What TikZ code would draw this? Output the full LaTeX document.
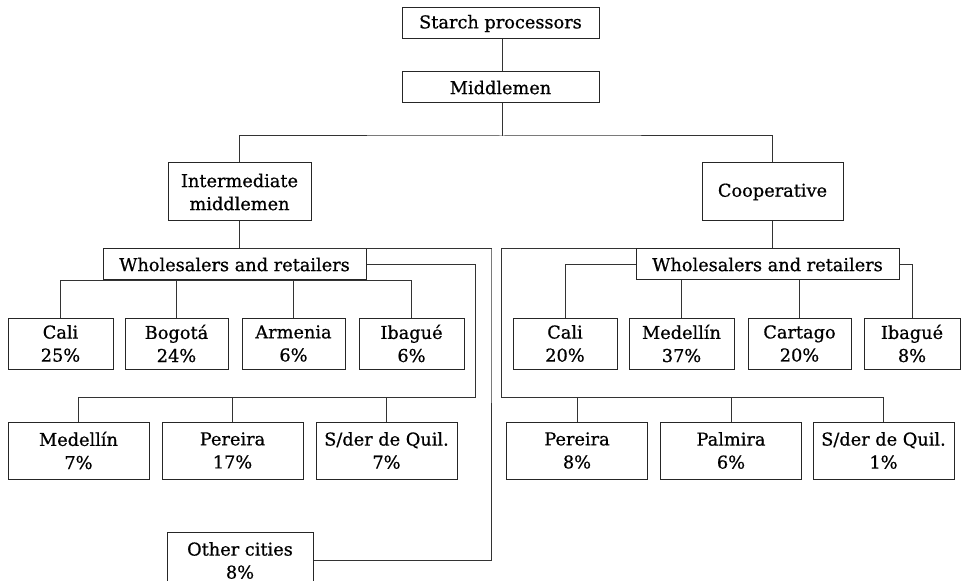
\documentclass[tikz,border=0pt]{standalone}
\usepackage{fontspec}
\setmainfont{DejaVu Serif}
\newfontfamily\boxfont[FakeBold=0.7]{DejaVu Serif}
\usetikzlibrary{positioning}

% one reference pixel
\newcommand{\pxu}[1]{#1*0.75pt}

\tikzset{
  box/.style={draw=black!85, line width=0.75pt, inner sep=0pt, align=center,
    font=\boxfont\fontsize{13.3}{17.3}\selectfont},
  link/.style={draw=black!80, line width=0.75pt}
}

\begin{document}
\begin{tikzpicture}[x=0.75pt, y=-0.75pt]
\useasboundingbox (0,0) rectangle (961,581);

% Top of the chain
\node[box, minimum width=\pxu{197}, minimum height=\pxu{31}] (starch) at (500.5,23.5) {Starch processors};
\node[box, minimum width=\pxu{197}, minimum height=\pxu{31}] (middle) at (500.5,87.5) {Middlemen};
\node[box, minimum width=\pxu{143}, minimum height=\pxu{58}] (inter) at (239.5,192) {Intermediate\\middlemen};
\node[box, minimum width=\pxu{141}, minimum height=\pxu{58}] (coop) at (772.5,192) {Cooperative};

% Wholesalers and retailers
\node[box, minimum width=\pxu{263}, minimum height=\pxu{31}] (wsl) at (234.5,264.5) {Wholesalers and retailers};
\node[box, minimum width=\pxu{263}, minimum height=\pxu{31}] (wsr) at (767.5,264.5) {Wholesalers and retailers};

% First row of cities
\foreach \name/\cx/\w/\txt in {caliL/60.5/105/{Cali\\25\%}, bogL/176.5/103/{Bogotá\\24\%},
    armL/293.5/103/{Armenia\\6\%}, ibaL/411.5/105/{Ibagué\\6\%},
    caliR/565/104/{Cali\\20\%}, medR/681.5/105/{Medellín\\37\%},
    cartR/799.5/103/{Cartago\\20\%}, ibaR/912/96/{Ibagué\\8\%}}
  \node[box, minimum width=\pxu{\w}, minimum height=\pxu{51}] (\name) at (\cx,343.5) {\txt};

% Second row of cities
\foreach \name/\cx/\txt in {medL/78.5/{Medellín\\7\%}, perL/232.5/{Pereira\\17\%},
    sqL/386.5/{S/der de Quil.\\7\%}, perR/577/{Pereira\\8\%},
    palR/731/{Palmira\\6\%}, sqR/883.5/{S/der de Quil.\\1\%}}
  \node[box, minimum width=\pxu{141}, minimum height=\pxu{57}] (\name) at (\cx,450.5) {\txt};

\node[box, minimum width=\pxu{146}, minimum height=\pxu{57}] (other) at (240,560.5) {Other cities\\8\%};

% Bus points
\coordinate (split) at (502,136);
\coordinate (otherturn) at (491,249);
\coordinate (leftbus) at (475,397);
\coordinate (rightbus) at (501,397);

% Upper links
\draw[link] (starch.south -| split) -- (middle.north -| split);
\draw[link] (middle.south -| split) -- (split);
\draw[link] (inter.north) |- (split) -| (coop.north);

% Left branch
\draw[link] (inter.south) -- (inter.south |- wsl.north);
\draw[link] (inter.south |- wsl.north) -| (otherturn) |- (other.east);
\draw[link] (caliL.north |- wsl.south) -- (ibaL.north |- wsl.south);
\foreach \n in {caliL, bogL, armL, ibaL}
  \draw[link] (\n.north) -- (\n.north |- wsl.south);
\draw[link] (wsl.east) -| (leftbus) -| (medL.north);
\foreach \n in {perL, sqL}
  \draw[link] (\n.north) -- (\n.north |- leftbus);

% Right branch
\draw[link] (coop.south) -- (coop.south |- wsr.north);
\draw[link] (wsr.west) -| (caliR.north);
\draw[link] (wsr.east) -| (ibaR.north);
\foreach \n in {medR, cartR}
  \draw[link] (\n.north) -- (\n.north |- wsr.south);
\draw[link] (wsr.north west) -| (rightbus) -| (sqR.north);
\foreach \n in {perR, palR}
  \draw[link] (\n.north) -- (\n.north |- rightbus);
\end{tikzpicture}
\end{document}
